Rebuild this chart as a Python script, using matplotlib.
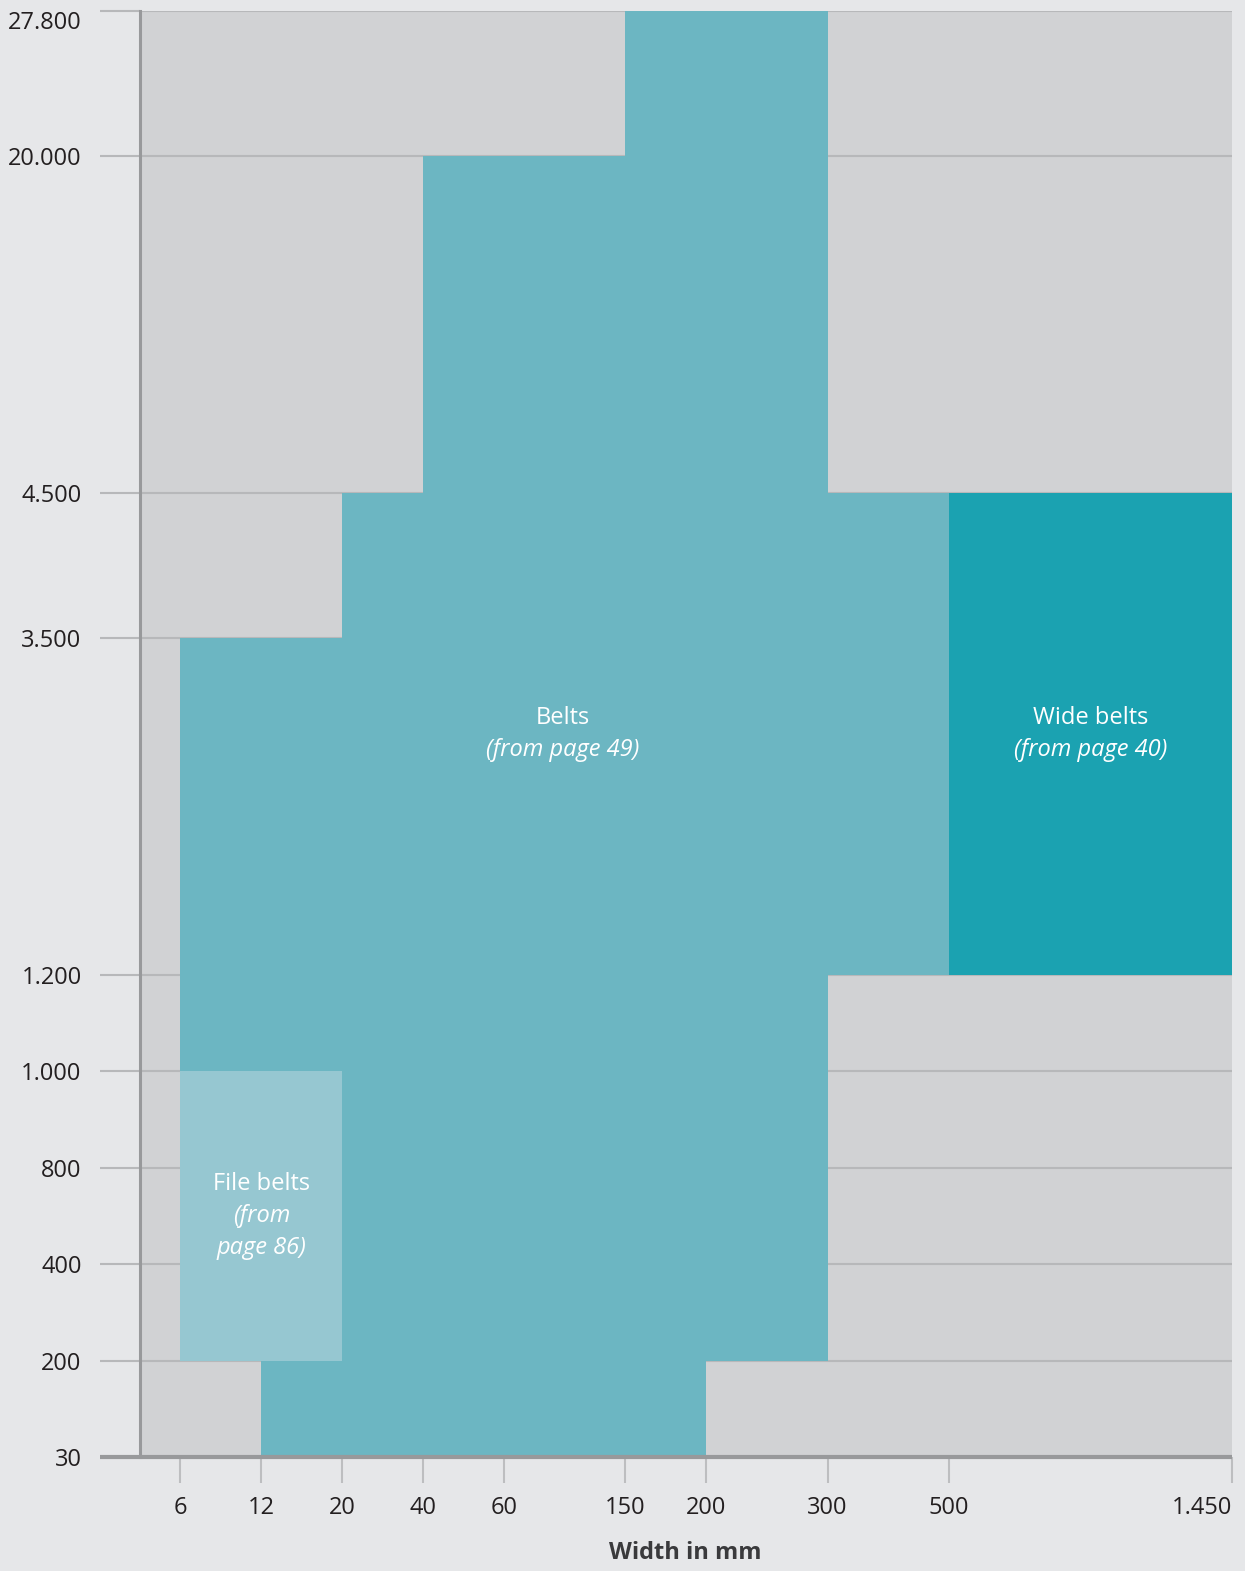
import numpy as np
import matplotlib.pyplot as plt

plt.rcParams['font.family'] = ['Open Sans', 'DejaVu Sans']

# width ticks (mm) and length ticks (mm) as printed
x_ticks = [6, 12, 20, 40, 60, 150, 200, 300, 500, 1450]
x_labels = ['6', '12', '20', '40', '60', '150', '200', '300', '500', '1.450']
y_ticks = [30, 200, 400, 800, 1000, 1200, 3500, 4500, 20000, 27800]
y_labels = ['30', '200', '400', '800', '1.000', '1.200', '3.500', '4.500', '20.000', '27.800']

# belts outline (width, length)
belts_w = [12, 200, 200, 300, 300, 500, 500, 300, 300, 150, 150, 40, 40, 20, 20, 6, 6, 12]
belts_l = [30, 30, 200, 200, 1200, 1200, 4500, 4500, 27800, 27800, 20000, 20000, 4500, 4500, 3500, 3500, 200, 200]
# file belts and wide belts ranges
file_w = [6, 20]
file_l = [200, 1000]
wide_w = [500, 1450]
wide_l = [1200, 4500]

# the chart uses an irregular (slot) scale
x_slots = [0, 1, 3, 5, 7, 9, 12, 14, 17, 20, 27]
y_slots = [0, 2, 4, 6, 8, 10, 17, 20, 27, 30]
x_vals = [0] + x_ticks

def xf(v):
    return np.interp(v, x_vals, x_slots)
def xi(p):
    return np.interp(p, x_slots, x_vals)
def yf(v):
    return np.interp(v, y_ticks, y_slots)
def yi(p):
    return np.interp(p, y_slots, y_ticks)

bg = '#e6e7e9'
gray = '#d1d2d4'
grid = '#b7b8ba'
axis_c = '#98999b'

fig = plt.figure(figsize=(12.45, 15.71), dpi=100)
fig.patch.set_facecolor(bg)
ax = fig.add_axes([140/1245, 1-1457/1571, 1092/1245, 1446/1571])
ax.set_facecolor(gray)
ax.set_xscale('function', functions=(xf, xi))
ax.set_yscale('function', functions=(yf, yi))
ax.set_xlim(0, 1450)
ax.set_ylim(30, 27800)

ax.fill(belts_w, belts_l, color='#6cb6c2', lw=0, zorder=2)
ax.fill([file_w[0], file_w[1], file_w[1], file_w[0]], [file_l[0], file_l[0], file_l[1], file_l[1]],
        color='#96c7d1', lw=0, zorder=3)
ax.fill([wide_w[0], wide_w[1], wide_w[1], wide_w[0]], [wide_l[0], wide_l[0], wide_l[1], wide_l[1]],
        color='#1ba2b1', lw=0, zorder=3)

# labels
def mid(a, f, inv):
    return float(inv((f(a[0]) + f(a[1])) / 2))

def box_label(x, y, lines, coords='data'):
    n = len(lines)
    for k, (txt, style) in enumerate(lines):
        off = (k - (n - 1) / 2) * -23
        ax.annotate(txt, (x, y), xycoords=coords, xytext=(0, off), textcoords='offset points',
                    ha='center', va='center', color='white', fontsize=17, style=style, zorder=5)

box_label(0.387, 0.5, [('Belts', 'normal'), ('(from page 49)', 'italic')], coords='axes fraction')
box_label(mid(wide_w, xf, xi), mid(wide_l, yf, yi), [('Wide belts', 'normal'), ('(from page 40)', 'italic')])
box_label(mid(file_w, xf, xi), mid(file_l, yf, yi),
          [('File belts', 'normal'), ('(from', 'italic'), ('page 86)', 'italic')])

ax.set_xticks(x_ticks)
ax.set_xticklabels(x_labels)
ax.set_yticks(y_ticks)
ax.set_yticklabels(y_labels)
ax.minorticks_off()
ax.yaxis.grid(True, color=grid, lw=1.5)
ax.set_axisbelow(True)
ax.tick_params(axis='y', length=29, width=1.5, color=grid, pad=13, labelsize=17, labelcolor='#231f20')
ax.tick_params(axis='x', length=19, width=1.5, color='#bdbec0', pad=9, labelsize=17, labelcolor='#231f20')
ax.get_yticklabels()[-1].set_verticalalignment('top')
ax.get_xticklabels()[-1].set_horizontalalignment('right')

for s in ['top', 'right', 'bottom']:
    ax.spines[s].set_visible(False)
ax.spines['left'].set_color(axis_c)
ax.spines['left'].set_linewidth(2.2)
ax.spines['left'].set_zorder(6)
ax.plot([-40/1092, 1.0], [0, 0], transform=ax.transAxes, clip_on=False,
        color=axis_c, lw=3, solid_capstyle='butt', zorder=6)

fig.text(685/1245, 1-1553/1571, 'Width in mm', ha='center', va='center',
         fontsize=17, fontweight='bold', color='#3a3a3c')

plt.savefig('out.png', dpi=100, facecolor=bg)
